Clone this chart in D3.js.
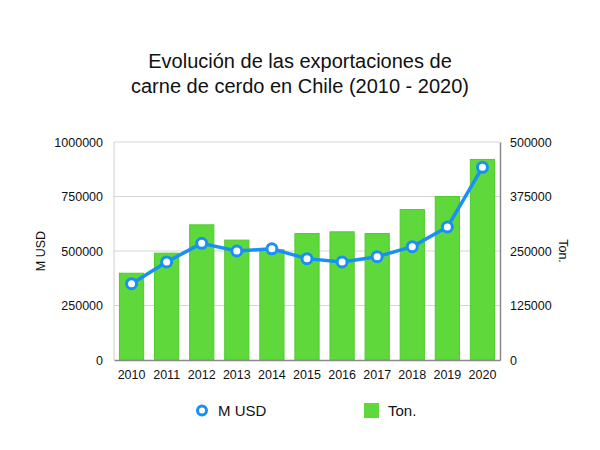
<!DOCTYPE html>
<html><head><meta charset="utf-8">
<script src="https://cdn.jsdelivr.net/npm/d3@7"></script>
<style>body{margin:0;background:#fff}svg{display:block;font-family:"Liberation Sans",Arial,Helvetica,sans-serif}</style>
</head><body><svg id="c" width="600" height="450"></svg>
<script>
const years = ["2010","2011","2012","2013","2014","2015","2016","2017","2018","2019","2020"];
const tons = [199000, 245000, 310000, 275000, 253000, 290000, 294000, 290000, 345000, 375000, 460000];
const musd = [350000, 450000, 535000, 500000, 510000, 465000, 450000, 474000, 520000, 610000, 884000];
const leftTicks = [0, 250000, 500000, 750000, 1000000];
const rightTicks = [0, 125000, 250000, 375000, 500000];
const titleLines = ["Evolución de las exportaciones de", "carne de cerdo en Chile (2010 - 2020)"];

const svg = d3.select("#c");
const L = 114, R = 500, T = 142, B = 360;
const x = d3.scaleBand().domain(years).range([L, R]).paddingInner(0.31).paddingOuter(0.155);
const yL = d3.scaleLinear().domain([0, 1000000]).range([B, T]);
const yR = d3.scaleLinear().domain([0, 500000]).range([B, T]);

// title
svg.append("g").selectAll("text").data(titleLines).join("text")
  .attr("x", 300).attr("y", (d, i) => 68 + i * 25)
  .attr("text-anchor", "middle").attr("font-size", 20).attr("fill", "#111").text(d => d);

// grid
svg.append("g").selectAll("line").data(leftTicks.slice(1)).join("line")
  .attr("x1", L).attr("x2", R).attr("y1", d => yL(d)).attr("y2", d => yL(d))
  .attr("stroke", "#d6d6d6").attr("stroke-width", 1);
svg.append("line").attr("x1", L).attr("x2", L).attr("y1", T).attr("y2", B).attr("stroke", "#cfcfcf");

// bars
svg.append("g").selectAll("rect").data(tons).join("rect")
  .attr("x", (d, i) => x(years[i])).attr("width", x.bandwidth())
  .attr("y", d => yR(d)).attr("height", d => B - yR(d))
  .attr("fill", "#5fd83c").attr("stroke", "#4fcb2c").attr("stroke-width", 1);

// axes
const axL = d3.axisLeft(yL).tickValues(leftTicks).tickSize(0).tickPadding(11).tickFormat(d3.format("d"));
const gL = svg.append("g").attr("transform", `translate(${L},0)`).call(axL);
gL.select(".domain").remove();
gL.selectAll("text").attr("font-size", 12.5).attr("fill", "#111").attr("font-family", "Liberation Sans, Arial, sans-serif");

const axR = d3.axisRight(yR).tickValues(rightTicks).tickSize(0).tickPadding(10).tickFormat(d3.format("d"));
const gR = svg.append("g").attr("transform", `translate(${R},0)`).call(axR);
gR.select(".domain").attr("stroke", "#8a8a8a").attr("stroke-width", 1.5);
gR.selectAll("text").attr("font-size", 12.5).attr("fill", "#111").attr("font-family", "Liberation Sans, Arial, sans-serif");

const axB = d3.axisBottom(x).tickSize(0).tickPadding(10);
const gB = svg.append("g").attr("transform", `translate(0,${B})`).call(axB);
gB.select(".domain").attr("stroke", "#8a8a8a").attr("stroke-width", 1.5);
gB.selectAll("text").attr("font-size", 12.5).attr("fill", "#111").attr("font-family", "Liberation Sans, Arial, sans-serif");

// axis titles
svg.append("text").attr("transform", "translate(45,251) rotate(-90)").attr("text-anchor", "middle")
  .attr("font-size", 12.5).attr("fill", "#111").text("M USD");
svg.append("text").attr("transform", "translate(559,251) rotate(90)").attr("text-anchor", "middle")
  .attr("font-size", 12.5).attr("fill", "#111").text("Ton.");

// line
const cx = i => x(years[i]) + x.bandwidth() / 2;
const line = d3.line().x((d, i) => cx(i)).y(d => yL(d));
svg.append("path").datum(musd).attr("d", line).attr("fill", "none")
  .attr("stroke", "#1990f5").attr("stroke-width", 3.5).attr("stroke-linejoin", "round");
svg.append("g").selectAll("circle").data(musd).join("circle")
  .attr("cx", (d, i) => cx(i)).attr("cy", d => yL(d)).attr("r", 5)
  .attr("fill", "#fff").attr("stroke", "#1990f5").attr("stroke-width", 3);

// legend
const lg = svg.append("g");
lg.append("circle").attr("cx", 202).attr("cy", 410.5).attr("r", 4.5).attr("fill", "#fff").attr("stroke", "#1990f5").attr("stroke-width", 3);
lg.append("text").attr("x", 218).attr("y", 416).attr("font-size", 15).attr("fill", "#111").text("M USD");
lg.append("rect").attr("x", 364).attr("y", 403).attr("width", 15).attr("height", 15).attr("fill", "#5fd83c");
lg.append("text").attr("x", 388).attr("y", 416).attr("font-size", 15).attr("fill", "#111").text("Ton.");
</script></body></html>
